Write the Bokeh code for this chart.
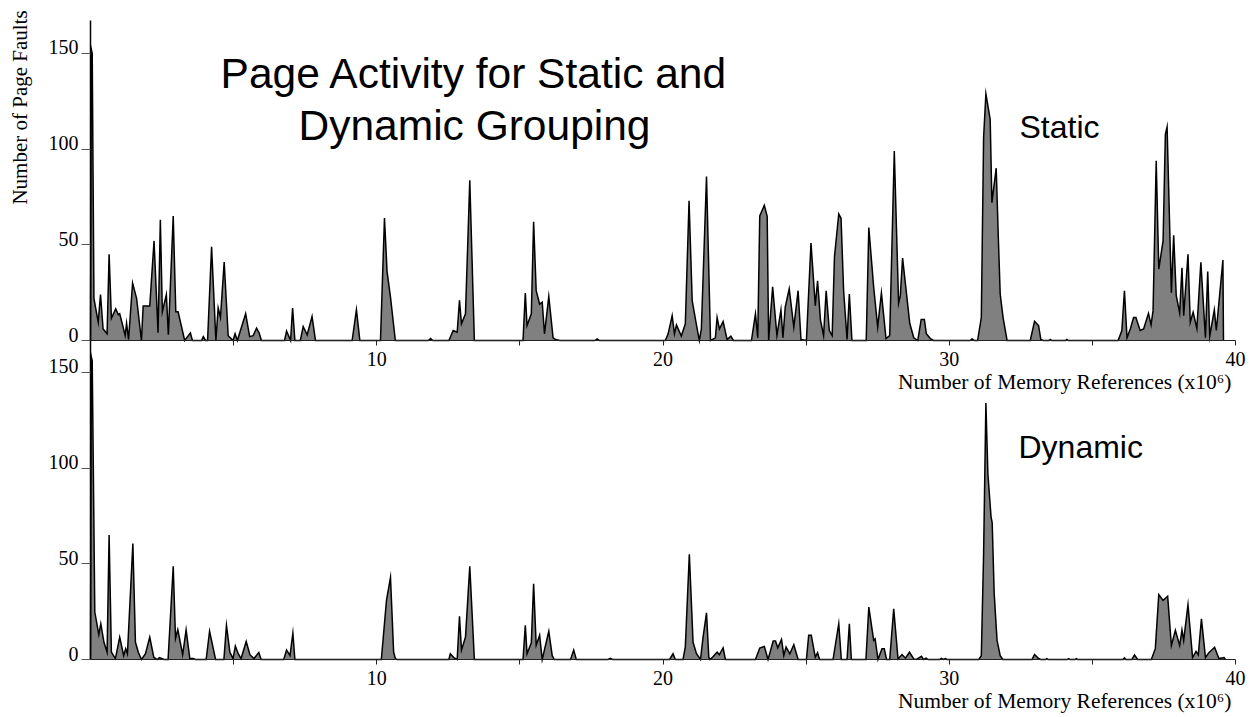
import math
import numpy as np
from bokeh.plotting import figure
from bokeh.models import Range1d, LinearAxis, FixedTicker, Label, ColumnDataSource
from bokeh.embed import file_html
from bokeh.resources import INLINE

# ---------------- data (x in millions of memory references) ----------------
static_x = [0.00, 0.03, 0.06, 0.12, 0.27, 0.35, 0.44, 0.58, 0.65, 0.73, 0.88, 0.97, 1.02, 1.14, 1.21,
            1.26, 1.33, 1.47, 1.61, 1.78, 1.84, 2.07, 2.22, 2.36, 2.44, 2.51, 2.65, 2.72, 2.89, 2.98,
            3.06, 3.29, 3.49, 3.56, 3.88, 3.94, 4.02, 4.09, 4.23, 4.38, 4.46, 4.54, 4.67, 4.81, 4.98,
            5.05, 5.13, 5.42, 5.56, 5.68, 5.80, 5.89, 5.97, 6.78, 6.85, 6.99, 7.06, 7.14, 7.33, 7.43,
            7.57, 7.74, 7.86, 9.14, 9.29, 9.41, 10.13, 10.27, 10.36, 10.48, 10.65, 11.80, 11.88, 11.96,
            12.52, 12.67, 12.81, 12.89, 12.96, 13.10, 13.25, 13.41, 15.11, 15.19, 15.25, 15.40, 15.48,
            15.57, 15.69, 15.78, 15.86, 16.01, 16.16, 16.25, 16.40, 17.62, 17.70, 17.78, 20.08, 20.18,
            20.32, 20.40, 20.47, 20.64, 20.78, 20.91, 21.02, 21.17, 21.27, 21.34, 21.52, 21.66, 21.83,
            21.89, 21.97, 22.10, 22.24, 22.37, 22.46, 23.09, 23.23, 23.31, 23.38, 23.54, 23.64, 23.69,
            23.83, 23.98, 24.12, 24.19, 24.27, 24.41, 24.57, 24.72, 24.82, 25.01, 25.17, 25.32, 25.40,
            25.50, 25.61, 25.70, 25.81, 25.91, 25.99, 26.14, 26.22, 26.31, 26.43, 26.51, 26.60, 27.10,
            27.19, 27.36, 27.50, 27.63, 27.79, 27.92, 28.08, 28.23, 28.29, 28.37, 28.62, 28.76, 28.90,
            29.02, 29.13, 29.20, 29.34, 29.45, 30.72, 30.80, 30.88, 30.99, 31.12, 31.20, 31.28, 31.43,
            31.49, 31.64, 31.71, 31.78, 31.88, 32.02, 32.83, 32.98, 33.12, 33.20, 33.28, 33.48, 33.53,
            33.58, 34.06, 34.11, 34.16, 35.90, 36.03, 36.12, 36.21, 36.33, 36.44, 36.52, 36.67, 36.79,
            36.96, 37.05, 37.12, 37.23, 37.32, 37.47, 37.55, 37.61, 37.76, 37.84, 37.93, 38.05, 38.13,
            38.19, 38.34, 38.42, 38.52, 38.65, 38.79, 38.95, 39.03, 39.10, 39.26, 39.33, 39.56, 39.58]
static_y = [0, 152, 150, 22, 9.5, 24, 6, 3.5, 45, 11.6, 16.5, 13.5, 14, 7, 2.6,
            9, 0.5, 30, 22, 0, 18, 18, 52, 4, 63, 15, 24, 3, 65, 15,
            15, 0, 4, 0, 0, 2, 0, 0, 49, 0, 17, 12, 41, 2.5, 0,
            3.5, 0, 14, 2, 2.5, 6.4, 4, 0, 0, 5, 0, 17, 0, 0, 7.3,
            3, 12.5, 0, 0, 16, 0, 0, 64, 36, 22.6, 0, 0, 1, 0,
            0, 5.2, 4.3, 21, 8.7, 13.9, 83.7, 0, 0, 24.8, 7.8, 13.9, 62,
            26, 19, 20, 3.5, 23, 1.4, 0.5, 0, 0, 0.8, 0, 0, 3.5,
            13, 3.5, 8.1, 2.3, 8.7, 72.9, 20.8, 8, 0, 6, 85.6, 0, 1.4,
            12, 6, 9.9, 0.5, 2.3, 0, 0, 13.9, 1.4, 65, 70.6, 64.8, 0,
            28, 2.6, 16, 1.4, 17.4, 27, 7, 26, 0.5, 0, 50.9, 18.2, 31.2,
            10.8, 2.6, 26, 5.2, 2.6, 43.7, 66, 63.8, 26, 0.5, 24.3, 0, 0,
            59, 27.8, 7, 24.8, 1, 2.6, 99, 19.4, 23.4, 43, 9, 1.4, 0,
            11, 11, 3.5, 1, 0, 0, 0.8, 0, 0, 12, 106, 128.8, 115.5,
            72, 90, 55.7, 24.3, 12, 0, 0, 10, 7.8, 0.5, 0, 0, 0.6,
            0, 0, 0.6, 0, 0, 5.2, 26, 1.4, 6.3, 12, 12, 5.2, 6,
            14.2, 8.2, 15.6, 93.8, 37.3, 52, 107.6, 111.5, 25, 55, 23.4, 14.4, 38,
            13, 45, 9.5, 14.8, 6.3, 40.8, 1.4, 36, 2.3, 16, 5.2, 42, 0]

dynamic_x = [0.00, 0.03, 0.06, 0.15, 0.29, 0.36, 0.47, 0.58, 0.65, 0.73, 0.87, 1.02, 1.16, 1.23, 1.29,
             1.48, 1.57, 1.67, 1.78, 1.92, 2.07, 2.21, 2.33, 2.41, 2.57, 2.71, 2.89, 2.97, 3.05, 3.22,
             3.34, 3.47, 3.58, 3.67, 4.04, 4.16, 4.37, 4.66, 4.75, 4.87, 4.98, 5.06, 5.16, 5.26, 5.44,
             5.57, 5.71, 5.88, 5.96, 6.75, 6.85, 6.97, 7.07, 7.14, 10.16, 10.34, 10.48, 10.59, 10.65,
             10.71, 12.52, 12.57, 12.69, 12.81, 12.89, 12.96, 13.10, 13.25, 13.41, 15.11, 15.19, 15.25,
             15.40, 15.48, 15.57, 15.69, 15.78, 16.01, 16.13, 16.20, 16.77, 16.88, 16.97, 18.08, 18.16,
             18.24, 20.23, 20.35, 20.43, 20.70, 20.78, 20.92, 21.05, 21.17, 21.31, 21.40, 21.52, 21.60,
             21.64, 21.73, 21.89, 21.97, 22.10, 22.18, 23.23, 23.38, 23.54, 23.67, 23.85, 23.93, 24.01,
             24.14, 24.22, 24.30, 24.43, 24.57, 24.72, 25.01, 25.09, 25.18, 25.32, 25.40, 25.47, 25.94,
             26.14, 26.23, 26.43, 26.51, 26.58, 27.09, 27.19, 27.36, 27.41, 27.51, 27.65, 27.73, 27.81,
             27.92, 28.06, 28.21, 28.35, 28.47, 28.61, 28.76, 28.85, 29.03, 29.10, 29.19, 29.26, 29.66,
             29.72, 29.80, 29.86, 29.92, 31.03, 31.12, 31.20, 31.28, 31.35, 31.46, 31.50, 31.57, 31.67,
             31.78, 31.87, 32.89, 32.98, 33.12, 33.20, 33.36, 33.41, 33.46, 34.12, 34.17, 34.22, 34.39,
             34.44, 34.49, 36.07, 36.12, 36.17, 36.38, 36.47, 36.58, 37.06, 37.20, 37.32, 37.47, 37.63,
             37.76, 37.90, 38.05, 38.13, 38.19, 38.34, 38.50, 38.62, 38.70, 38.81, 38.95, 39.06, 39.27,
             39.42, 39.60, 39.65]
dynamic_y = [0, 158, 156, 24.8, 13, 18.7, 9, 3.8, 65, 3.8, 0.5, 11.7, 2, 5.6, 3,
             60.6, 9, 3.8, 0, 3, 11.7, 1.2, 0, 1, 0, 0, 48.7, 11, 15.6, 2.5,
             15.5, 0.5, 0.5, 0, 0, 14.7, 0, 0, 17.8, 3.8, 0.5, 7, 3, 0.5, 9.4,
             2.5, 0.5, 3.6, 0, 0, 4.9, 2, 13.8, 0, 0, 30.9, 42.8, 3.8, 0.5,
             0, 0, 3, 1, 0, 22.5, 4.9, 11.7, 48.7, 0, 0, 17.8, 3,
             8.7, 39.6, 7.5, 12.7, 0, 14.7, 2, 0, 0, 4.9, 0, 0, 0.6,
             0, 0, 3, 0, 0, 6.6, 55, 9, 3, 0, 11.7, 24.4, 1.2,
             0, 1.2, 3.8, 2.5, 6, 0, 0, 6, 6.8, 0, 9.6, 9.6, 6.1,
             10.5, 2.1, 6.5, 3, 7.7, 0, 0, 12.6, 12.6, 1.2, 3.5, 0, 0,
             18.7, 0, 0, 18.7, 0, 0, 27.4, 10, 10.8, 0, 5.6, 5.6, 0,
             0, 26.5, 0.3, 2.6, 0.7, 3.8, 0.3, 0, 1.7, 0, 0.7, 0, 0,
             0.6, 0, 0.5, 0, 0, 2, 55, 133.9, 97, 74.5, 71.4, 34.4, 10,
             2, 0, 0, 2.6, 0.5, 0, 0, 0.5, 0, 0, 0.5, 0, 0,
             0.5, 0, 0, 0.8, 0, 0, 2.4, 0, 0, 5.8, 33.9, 30.9, 33,
             7.3, 15.2, 7.3, 15.5, 10, 28.6, 1, 4.2, 2.4, 21.3, 1, 3.4, 6.4,
             0.5, 1, 0]

y_ticks = [0, 50, 100, 150]
x_ticks = [10, 20, 30, 40]
x_minor_ticks = [5, 15, 25, 35]

title_lines = ["Page Activity for Static and", "Dynamic Grouping"]
panel_names = ["Static", "Dynamic"]
x_title = "Number of Memory References (x10\u2076)"
y_title = "Number of Page Faults"

# ---------------- layout constants (screen pixels) ----------------
W, H = 1250, 717
X0_PX, X40_PX = 90, 1235     # screen x of 0 and 40 on the x axis
X_MAX = 40
PPX = (X40_PX - X0_PX) / X_MAX   # pixels per million refs
PPU = 1.915                  # pixels per page fault
TOP_BASE = 340               # screen y of upper panel baseline
BOT_BASE = 659               # screen y of lower panel baseline
AXIS_TOP = 20                # screen y where the upper y axis ends
LABEL_LIFT = 6               # y tick labels sit a little above their ticks


def X(px):
    return (px - X0_PX) / PPX


def Y(py):  # default (lower panel) range
    return (BOT_BASE - py) / PPU


# whole canvas is the plotting frame, so nothing gets clipped
p = figure(width=W, height=H,
           x_range=Range1d(X(0), X(W)),
           y_range=Range1d(Y(H), Y(0)),
           x_axis_type=None, y_axis_type=None, toolbar_location=None,
           output_backend="svg", min_border=0,
           min_border_left=0, min_border_right=0, min_border_top=0, min_border_bottom=0)
lift = LABEL_LIFT / PPU
p.extra_y_ranges = {
    "top": Range1d(-(H - TOP_BASE) / PPU, TOP_BASE / PPU),
    "top_lbl": Range1d(-(H - TOP_BASE) / PPU - lift, TOP_BASE / PPU - lift),
    "default_lbl": Range1d(Y(H) - lift, Y(0) - lift),
}
p.outline_line_color = None
p.background_fill_color = "white"
p.border_fill_color = "white"


def line_mask(ys):
    ys = np.asarray(ys, dtype=float)
    out = ys.copy()
    n = len(ys)
    for i in range(n):
        if ys[i] == 0:
            left = ys[i - 1] if i > 0 else 0
            right = ys[i + 1] if i < n - 1 else 0
            if left == 0 and right == 0:
                out[i] = np.nan
    return out


for xs, ys, rng in [(static_x, static_y, "top"), (dynamic_x, dynamic_y, "default")]:
    src = ColumnDataSource(dict(x=np.asarray(xs, float), y=np.asarray(ys, float),
                                y0=np.zeros(len(xs)), yl=line_mask(ys)))
    p.varea(x="x", y1="y0", y2="y", source=src, y_range_name=rng,
            fill_color="#808080", fill_alpha=1.0)
    p.line(x="x", y="yl", source=src, y_range_name=rng,
           line_color="black", line_width=1.5, line_join="miter")

SERIF = "Liberation Serif"
SANS = "Liberation Sans"

for rng in ["top", "default"]:
    xa = LinearAxis(y_range_name=rng, fixed_location=0,
                    ticker=FixedTicker(ticks=x_ticks, minor_ticks=x_minor_ticks),
                    bounds=(0, X_MAX))
    xa.axis_line_color = "#222222"
    xa.axis_line_width = 1
    xa.major_tick_line_color = "#222222"
    xa.minor_tick_line_color = "#222222"
    xa.major_tick_out = 5
    xa.major_tick_in = 0
    xa.minor_tick_out = 5
    xa.minor_tick_in = 0
    xa.major_label_standoff = 6
    xa.major_label_text_font = SERIF
    xa.major_label_text_font_size = "20px"
    xa.major_label_text_color = "black"
    p.add_layout(xa, "below")

    # y axis line and ticks (labels drawn by a companion axis just above)
    top_val = (TOP_BASE - AXIS_TOP) / PPU if rng == "top" else (BOT_BASE - TOP_BASE) / PPU
    ya = LinearAxis(y_range_name=rng, fixed_location=0,
                    ticker=FixedTicker(ticks=y_ticks), bounds=(0, top_val))
    ya.axis_line_color = "black"
    ya.axis_line_width = 1.5
    ya.major_tick_line_color = "#555555"
    ya.major_tick_out = 9
    ya.major_tick_in = 0
    ya.minor_tick_line_color = None
    ya.major_label_text_color = None
    p.add_layout(ya, "left")

    yl = LinearAxis(y_range_name=rng + "_lbl", fixed_location=0,
                    ticker=FixedTicker(ticks=y_ticks))
    yl.axis_line_color = None
    yl.major_tick_line_color = None
    yl.minor_tick_line_color = None
    yl.major_tick_out = 0
    yl.major_tick_in = 0
    yl.major_label_standoff = 12
    yl.major_label_text_font = SERIF
    yl.major_label_text_font_size = "20px"
    yl.major_label_text_color = "black"
    p.add_layout(yl, "left")

# titles and labels
p.add_layout(Label(x=X(474), y=Y(73), text=title_lines[0], text_font=SANS,
                   text_font_size="42.5px", text_align="center", text_baseline="alphabetic",
                   text_color="black"))
p.add_layout(Label(x=X(474), y=Y(125), text=title_lines[1], text_font=SANS,
                   text_font_size="42.5px", text_align="center", text_baseline="alphabetic",
                   text_color="black"))
p.add_layout(Label(x=X(1019), y=Y(126), text=panel_names[0], text_font=SANS,
                   text_font_size="32px", text_align="left", text_baseline="alphabetic",
                   text_color="black"))
p.add_layout(Label(x=X(1018), y=Y(446), text=panel_names[1], text_font=SANS,
                   text_font_size="32px", text_align="left", text_baseline="alphabetic",
                   text_color="black"))
p.add_layout(Label(x=X(19), y=Y(107), text=y_title, angle=math.pi / 2, text_font=SERIF,
                   text_font_size="21px", text_align="center", text_baseline="middle",
                   text_color="black"))
for py in [381, 700]:
    p.add_layout(Label(x=X(1231), y=Y(py), text=x_title, text_font=SERIF,
                       text_font_size="21.5px", text_align="right", text_baseline="middle",
                       text_color="black"))

open("out.html", "w").write(file_html(p, INLINE))
